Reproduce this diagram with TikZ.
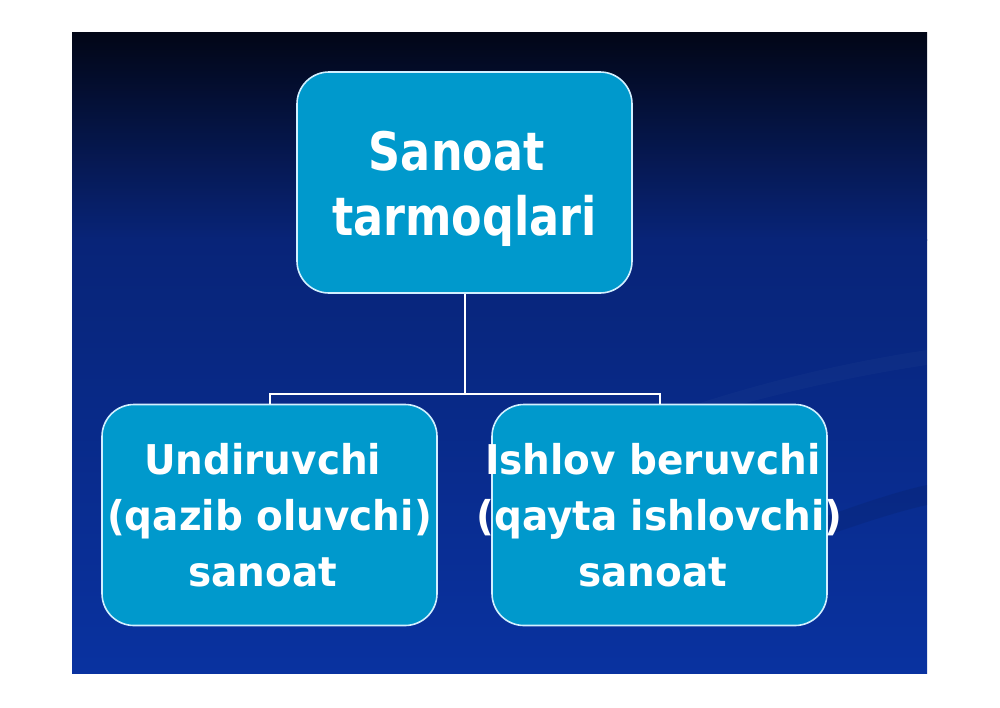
\documentclass[tikz,border=0pt]{standalone}
\usepackage{fontspec}
\newfontfamily\topfont{DejaVu Sans}[FakeStretch=0.84]
\newfontfamily\subfont{DejaVu Sans}[FakeStretch=0.95]
\definecolor{bgtop}{RGB}{2,6,22}
\definecolor{bgmid}{RGB}{8,36,120}
\definecolor{bgbot}{RGB}{9,50,160}
\definecolor{boxfill}{RGB}{0,153,204}
\definecolor{boxline}{RGB}{210,240,255}
\newcommand\tsp{\hphantom{\ }}
\tikzset{
  px/.style={x=0.5pt,y=-0.5pt},
  cbox/.style={draw=boxline,line width=0.8pt,fill=boxfill,rounded corners=16pt,
    minimum width=167.5pt,minimum height=110.5pt,inner sep=0pt},
  toptext/.style={text=white,align=center,inner sep=0pt,
    font=\topfont\bfseries\fontsize{26.5}{32.5}\selectfont},
  subtext/.style={text=white,align=center,inner sep=0pt,
    font=\subfont\bfseries\fontsize{20.5}{28}\selectfont},
  conn/.style={draw=white,line width=1pt}
}
\begin{document}
\begin{tikzpicture}[px]
\useasboundingbox (0,0) rectangle (1000,707);
\fill[white] (0,0) rectangle (1000,707);
\shade[top color=bgtop,bottom color=bgmid] (72,32) rectangle (927,240);
\shade[top color=bgmid,bottom color=bgbot] (72,239.5) rectangle (927,673);
% faint swooshes
\fill[black,opacity=0.08] (700,565) .. controls (800,525) and (880,495) .. (927,485)
  -- (927,505) .. controls (880,515) and (800,545) .. (700,580) -- cycle;
\fill[white,opacity=0.025] (650,420) .. controls (760,380) and (860,360) .. (927,350)
  -- (927,365) .. controls (860,375) and (760,395) .. (650,432) -- cycle;
% boxes
\node[cbox] (top) at (464.5,182.5) {};
\node[cbox] (left) at (269.5,515) {};
\node[cbox] (right) at (659.5,515) {};
% connectors
\coordinate (j) at (464.5,394);
\draw[conn] (top.south) -- (j);
\draw[conn] (left.north) |- (j);
\draw[conn] (right.north) |- (j);
% texts
\node[toptext] (ttop) at (464.5,189) {Sanoat\tsp\\tarmoqlari};
\node[subtext] (tleft) at (269.5,515.5) {Undiruvchi\tsp\\(qazib oluvchi)\\sanoat\tsp};
\node[subtext] (tright) at (659.5,515.5) {Ishlov beruvchi\tsp\\(qayta ishlovchi)\\sanoat\tsp};
\end{tikzpicture}
\end{document}
